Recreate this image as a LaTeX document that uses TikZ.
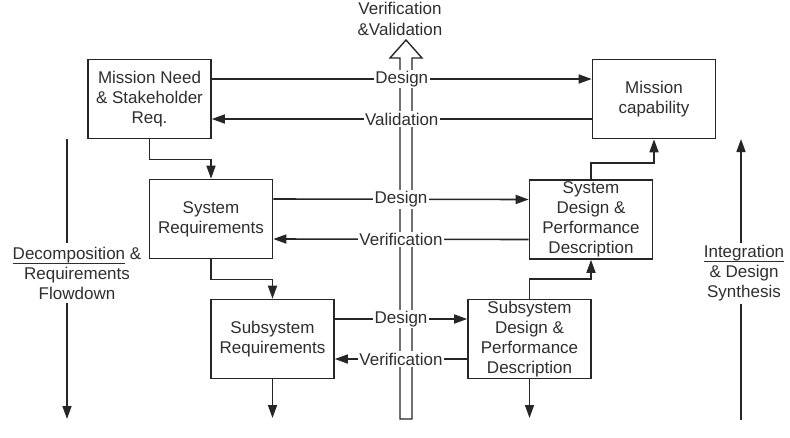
\documentclass[tikz,border=0pt]{standalone}
\usepackage{fontspec}
\setmainfont{Liberation Sans}
\usetikzlibrary{arrows.meta,calc}
\definecolor{ink}{HTML}{262626}
\definecolor{txt}{HTML}{2E2E2E}
\newcommand\myul[1]{{\setbox0\hbox{#1}\rlap{\rule[-4.6pt]{\wd0}{0.9pt}}\box0}}
\begin{document}
\begin{tikzpicture}[x=1pt,y=-1pt,
 every node/.style={font=\fontsize{17}{20}\selectfont, text=txt},
 box/.style={draw=ink, line width=1.6pt, minimum width=123pt, minimum height=79pt, align=center, inner sep=0pt, fill=white},
 conn/.style={draw=ink, line width=1.6pt},
 arr/.style={conn, -{Triangle[length=13pt,width=9pt]}},
 lab/.style={fill=white, inner sep=1.5pt},
]
\useasboundingbox (0,0) rectangle (790,437);
% hollow verification & validation arrow
\draw[ink, line width=1.4pt, fill=white, line join=miter] (400,419) -- (400,58) -- (390,58) -- (406,40) -- (422,58) -- (412,58) -- (412,419) -- cycle;
\node[align=center, font=\fontsize{17}{21}\selectfont] (vv) at (400,18.5) {Verification\\\&Validation};
% boxes
\node[box] (mn) at (149.5,99) {Mission Need\\\& Stakeholder\\Req.};
\node[box] (mc) at (654,99) {Mission\\capability};
\node[box] (sr) at (211,219) {System\\Requirements};
\node[box] (sd) at (591,219.5) {System\\Design \&\\Performance\\Description};
\node[box] (subr) at (272.5,339) {Subsystem\\Requirements};
\node[box] (subd) at (529.5,339) {Subsystem\\Design \&\\Performance\\Description};
% horizontal connectors
\draw[arr] ([yshift=20pt]mn.east) -- node[lab] (d1) {Design} ([yshift=20pt]mc.west);
\draw[arr] ([yshift=-20pt]mc.west) -- node[lab] (v1) {Validation} ([yshift=-20pt]mn.east);
\draw[arr] ([yshift=20pt]sr.east) -- node[lab] (d2) {Design} ([yshift=20pt]sd.west);
\draw[arr] ([yshift=-20pt]sd.west) -- node[lab] (v2) {Verification} ([yshift=-20pt]sr.east);
\draw[arr] ([yshift=20pt]subr.east) -- node[lab] (d3) {Design} ([yshift=20pt]subd.west);
\draw[arr] ([yshift=-20pt]subd.west) -- node[lab] (v3) {Verification} ([yshift=-20pt]subr.east);
% elbows
\draw[arr] (mn.south) -- ++(0,20) -| (sr.north);
\draw[arr] (sr.south) -- ++(0,20) -| (subr.north);
\draw[arr] (sd.north) -- ++(0,-16) -| (mc.south);
\draw[arr] (subd.north) -- ++(0,-20) -| (sd.south);
\coordinate (e1) at (272.5,418);
\coordinate (e2) at (529.5,418);
\draw[arr] (subr.south) -- (e1);
\draw[arr] (subd.south) -- (e2);
% side labels
\node[align=center] (dec) at (77,273) {\myul{Decomposition} \&\\Requirements\\Flowdown};
\node[align=center] (int) at (744,273) {\myul{Integration}\\\& Design\\Synthesis};
\coordinate (l1) at (67,139);
\coordinate (l2) at (67,243);
\coordinate (l3) at (67,303);
\coordinate (l4) at (67,419);
\draw[conn] (l1) -- (l2);
\draw[arr] (l3) -- (l4);
\coordinate (r1) at (741,139);
\coordinate (r2) at (741,243);
\coordinate (r3) at (741,304);
\coordinate (r4) at (741,420);
\draw[arr] (r2) -- (r1);
\draw[conn] (r4) -- (r3);
\end{tikzpicture}
\end{document}
